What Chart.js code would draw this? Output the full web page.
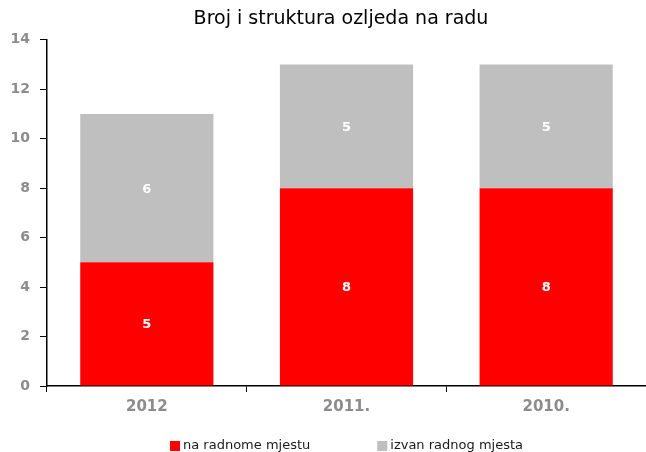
<!DOCTYPE html>
<html><head><meta charset="utf-8">
<script src="https://cdn.jsdelivr.net/npm/chart.js@4.4.1/dist/chart.umd.min.js"></script>
<style>html,body{margin:0;padding:0;background:#fff}#wrap{width:646px;height:452px}</style>
</head><body><div id="wrap"><canvas id="c" width="646" height="452"></canvas></div>
<script>
const categories = ['2012', '2011.', '2010.'];
const naRadnomeMjestu = [5, 8, 8];
const izvanRadnogMjesta = [6, 5, 5];
const seriesNames = ['na radnome mjestu', 'izvan radnog mjesta'];
const seriesColors = ['#ff0000', '#bfbfbf'];
const yTicks = [0, 2, 4, 6, 8, 10, 12, 14];

const FONT = '"DejaVu Sans", sans-serif';

const labelPlugin = {
  id: 'barLabels',
  afterDatasetsDraw(chart) {
    const ctx = chart.ctx;
    ctx.save();
    ctx.fillStyle = '#ffffff';
    ctx.font = 'bold 13px ' + FONT;
    ctx.textAlign = 'center';
    ctx.textBaseline = 'middle';
    chart.data.datasets.forEach((ds, i) => {
      const meta = chart.getDatasetMeta(i);
      meta.data.forEach((bar, j) => {
        const y = (bar.y + bar.base) / 2;
        ctx.fillText(String(ds.data[j]), bar.x, y + 1);
      });
    });
    ctx.restore();
  }
};

const titleShift = {
  id: 'titleShift',
  afterLayout(chart) {
    if (chart.titleBlock) { chart.titleBlock.left = 36; }
  }
};

const legendPlugin = {
  id: 'customLegend',
  afterDraw(chart) {
    const ctx = chart.ctx;
    const area = chart.chartArea;
    ctx.save();
    ctx.font = '13px ' + FONT;
    ctx.textBaseline = 'middle';
    ctx.textAlign = 'left';
    const box = 10, gap = 3, spacing = 67;
    const items = chart.data.datasets.map(ds => ({ text: ds.label, color: ds.backgroundColor, w: box + gap + ctx.measureText(ds.label).width }));
    const total = items.reduce((s, it) => s + it.w, 0) + spacing * (items.length - 1);
    let x = (area.left + area.right) / 2 - total / 2;
    const y = 446;
    items.forEach(it => {
      ctx.fillStyle = it.color;
      ctx.fillRect(x, y - box / 2, box, box);
      ctx.fillStyle = '#1a1a1a';
      ctx.fillText(it.text, x + box + gap, y);
      x += it.w + spacing;
    });
    ctx.restore();
  }
};

new Chart(document.getElementById('c'), {
  type: 'bar',
  data: {
    labels: categories,
    datasets: [
      { label: seriesNames[0], data: naRadnomeMjestu, backgroundColor: seriesColors[0], categoryPercentage: 1, barPercentage: 0.667 },
      { label: seriesNames[1], data: izvanRadnogMjesta, backgroundColor: seriesColors[1], categoryPercentage: 1, barPercentage: 0.667 }
    ]
  },
  options: {
    responsive: false,
    animation: false,
    devicePixelRatio: 1,
    layout: { padding: { left: 0, right: 0, top: 8, bottom: 0 } },
    plugins: {
      title: { display: true, text: 'Broj i struktura ozljeda na radu', color: '#000', font: { family: FONT, size: 19, weight: 'normal' }, padding: { top: 0, bottom: 9 } },
      legend: { display: false },
      tooltip: { enabled: false }
    },
    scales: {
      x: {
        stacked: true,
        grid: { display: true, drawOnChartArea: false, drawTicks: true, tickLength: 6, color: '#000' },
        border: { color: '#000', width: 1.5 },
        ticks: { color: '#8c8c8c', font: { family: FONT, size: 15, weight: 'bold' }, padding: 6 },
        afterFit(s) { s.height = 66; }
      },
      y: {
        stacked: true,
        min: 0, max: 14,
        afterBuildTicks(s) { s.ticks = yTicks.map(v => ({ value: v })); },
        grid: { display: true, drawOnChartArea: false, drawTicks: true, tickLength: 7, color: '#000' },
        border: { color: '#000', width: 1.5 },
        ticks: { color: '#8c8c8c', font: { family: FONT, size: 14, weight: 'bold' }, padding: 10 },
        afterFit(s) { s.width = 47; }
      }
    }
  },
  plugins: [labelPlugin, titleShift, legendPlugin]
});
</script></body></html>
